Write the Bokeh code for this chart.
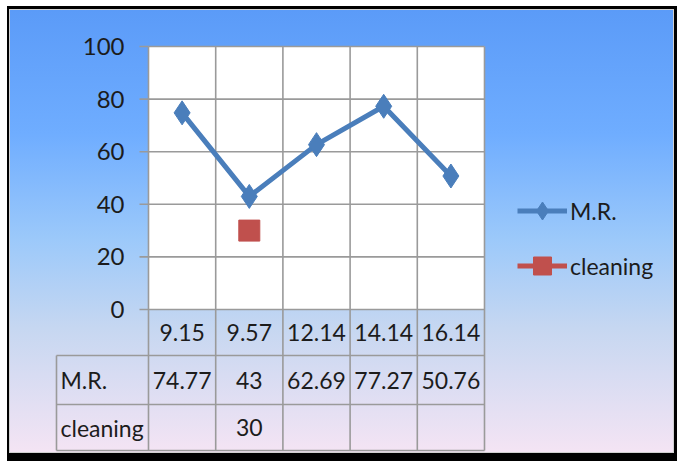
import math

from bokeh.core.properties import value
from bokeh.embed import file_html
from bokeh.models import ColumnDataSource, Legend, LegendItem, Range1d
from bokeh.plotting import figure
from bokeh.resources import INLINE

# ---- data -------------------------------------------------------------
categories = ["9.15", "9.57", "12.14", "14.14", "16.14"]
mr_values = [74.77, 43, 62.69, 77.27, 50.76]
cleaning_values = [None, 30, None, None, None]
y_ticks = [0, 20, 40, 60, 80, 100]
series_names = ["M.R.", "cleaning"]

# ---- layout (pixels) --------------------------------------------------
W, H = 681, 466
PLOT_LEFT, PLOT_RIGHT = 148, 484
PLOT_TOP, PLOT_BOTTOM = 46, 309
TABLE_LEFT = 56
ROW_EDGES_PX = [309, 355, 404, 450]

FONT = "Lato"
FONT_SIZE = "23px"
GRID = "#9a9a9a"
TEXT = "#1c1c1c"
BLUE = "#4a7ebb"
RED = "#c0504d"

n = len(categories)
y_max = y_ticks[-1]
px_per_x = (PLOT_RIGHT - PLOT_LEFT) / n
px_per_y = (PLOT_BOTTOM - PLOT_TOP) / y_max


def to_x(px):
    return (px - PLOT_LEFT) / px_per_x


def to_y(py):
    return (PLOT_BOTTOM - py) / px_per_y


p = figure(
    width=W, height=H,
    x_range=Range1d(to_x(0), to_x(W)),
    y_range=Range1d(to_y(H), to_y(0)),
    x_axis_location=None, y_axis_location=None,
    output_backend="svg", toolbar_location=None, min_border=0,
)
p.grid.visible = False
p.outline_line_color = None
p.background_fill_alpha = 0
p.border_fill_alpha = 0
# page backdrop: white margin, black frame, blue-to-pink gradient panel
p.styles = {
    "background-color": "white",
    "background-image": (
        "linear-gradient(to bottom, #5b9bf8 0%, #6fadff 28%, #9cc9fa 52%, "
        "#c6d7f1 72%, #f4e4f4 100%), "
        "linear-gradient(#d0d0d0, #d0d0d0), "
        "linear-gradient(#000000, #000000)"
    ),
    "background-size": "663px 442px, 665px 444px, 670px 455px",
    "background-position": "10px 10px, 9px 9px, 7px 6px",
    "background-repeat": "no-repeat",
}

# white plot area
p.quad(left=0, right=n, bottom=0, top=y_max, fill_color="white", line_color=None)

# horizontal gridlines and tick marks
tick_vals = list(y_ticks)
p.segment(x0=[0] * len(tick_vals), x1=[n] * len(tick_vals), y0=tick_vals, y1=tick_vals,
          line_color=GRID, line_width=1.6)
p.segment(x0=[to_x(139)] * len(tick_vals), x1=[0] * len(tick_vals), y0=tick_vals, y1=tick_vals,
          line_color=GRID, line_width=1.6)
p.text(x=[to_x(124)] * len(tick_vals), y=tick_vals, text=[str(t) for t in tick_vals],
       text_font=value(FONT), text_font_size="24px", text_color=TEXT,
       text_align="right", text_baseline="middle")

# vertical lines: category boundaries running through the data table
row_edges = [to_y(py) for py in ROW_EDGES_PX]
xb = list(range(n + 1))
p.segment(x0=xb, x1=xb, y0=[y_max] * len(xb), y1=[row_edges[-1]] * len(xb),
          line_color=GRID, line_width=1.6)

# table row rules and the left edge of the row-label column
tl = to_x(TABLE_LEFT)
p.segment(x0=[tl] * 3, x1=[n] * 3, y0=row_edges[1:], y1=row_edges[1:],
          line_color=GRID, line_width=1.6)
p.segment(x0=[tl], x1=[tl], y0=[row_edges[1]], y1=[row_edges[-1]],
          line_color=GRID, line_width=1.6)

# table text
centers = [i + 0.5 for i in range(n)]
hdr_y = (row_edges[0] + row_edges[1]) / 2
mr_y = (row_edges[1] + row_edges[2]) / 2
cl_y = (row_edges[2] + row_edges[3]) / 2


def fmt(v):
    return "" if v is None else f"{v:g}"


cell_x, cell_y, cell_t = [], [], []
for i, c in enumerate(categories):
    cell_x.append(centers[i]); cell_y.append(hdr_y); cell_t.append(c)
    cell_x.append(centers[i]); cell_y.append(mr_y); cell_t.append(fmt(mr_values[i]))
    cell_x.append(centers[i]); cell_y.append(cl_y); cell_t.append(fmt(cleaning_values[i]))
p.text(x=cell_x, y=cell_y, text=cell_t, text_font=value(FONT), text_font_size=FONT_SIZE,
       text_color=TEXT, text_align="center", text_baseline="middle")
p.text(x=[to_x(60)] * 2, y=[mr_y, cl_y], text=series_names, text_font=value(FONT),
       text_font_size=FONT_SIZE, text_color=TEXT, text_align="left", text_baseline="middle")

# series
mr_src = ColumnDataSource(dict(x=centers, y=mr_values))
cl_src = ColumnDataSource(dict(x=centers, y=[math.nan if v is None else v for v in cleaning_values]))

mr_line = p.line("x", "y", source=mr_src, line_color=BLUE, line_width=5)
mr_pts = p.scatter("x", "y", source=mr_src, marker="diamond", size=24,
                   fill_color=BLUE, line_color=BLUE)
cl_line = p.line("x", "y", source=cl_src, line_color=RED, line_width=5)
cl_pts = p.scatter("x", "y", source=cl_src, marker="square", size=21,
                   fill_color=RED, line_color=RED)

legend = Legend(
    items=[LegendItem(label=series_names[0], renderers=[mr_line, mr_pts]),
           LegendItem(label=series_names[1], renderers=[cl_line, cl_pts])],
    location=(517, H - 288),
    glyph_width=50, glyph_height=45, spacing=10, padding=0, margin=0,
    label_standoff=3, label_text_font=FONT, label_text_font_size=FONT_SIZE,
    label_text_color=TEXT, background_fill_alpha=0, border_line_color=None,
)
p.add_layout(legend)

open("out.html", "w").write(file_html(p, INLINE))
